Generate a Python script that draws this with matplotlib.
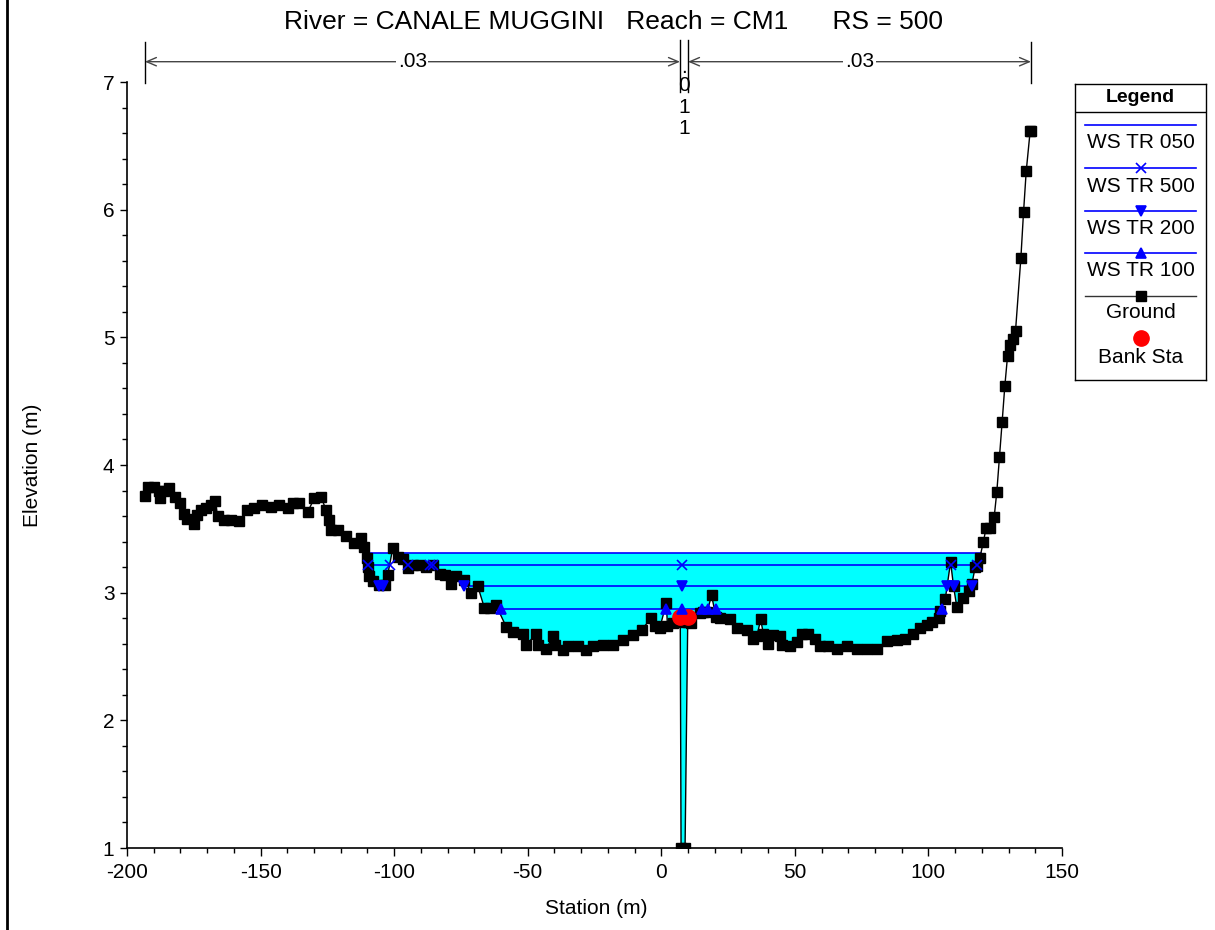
import matplotlib
matplotlib.use('Agg')
import matplotlib.pyplot as plt
from matplotlib.lines import Line2D
from matplotlib.ticker import MultipleLocator
import numpy as np

plt.rcParams['font.family'] = ['Liberation Sans', 'DejaVu Sans']
plt.rcParams['axes.unicode_minus'] = False

# Ground profile (station m, elevation m)
station = [
    -193.3, -192.0, -189.8, -188.0, -187.6, -186.1, -184.2, -182.0, -180.1, -178.6,
    -177.5, -174.9, -173.7, -172.3, -170.5, -168.6, -167.0, -166.1, -163.6, -161.1,
    -158.0, -154.9, -152.4, -149.3, -146.1, -143.0, -139.9, -138.0, -135.5, -132.4,
    -129.9, -127.4, -125.5, -124.3, -123.6, -121.1, -118.0, -114.9, -112.4, -111.1,
    -110.1, -109.9, -109.3, -108.0, -105.5, -103.6, -102.4, -100.5, -98.7, -96.8,
    -94.9, -93.0, -90.5, -88.0, -85.5, -83.0, -81.1, -78.6, -76.8, -73.7,
    -71.1, -68.7, -66.2, -64.3, -61.8, -58.0, -55.5, -51.8, -50.5, -46.8,
    -46.2, -43.0, -40.6, -39.9, -36.8, -34.9, -31.2, -28.0, -25.6, -21.8,
    -18.1, -14.3, -10.6, -7.4, -3.7, -2.4, -0.6, 1.9, 2.3, 4.4,
    6.9, 7.1, 7.4, 8.9, 9.9, 10.1, 11.3, 14.4, 15.8, 17.2,
    18.8, 20.5, 21.9, 25.7, 28.2, 31.9, 34.4, 35.8, 37.2, 38.2,
    40.0, 41.9, 44.4, 45.1, 48.2, 50.7, 52.5, 55.0, 57.5, 59.4,
    62.5, 65.7, 69.4, 73.2, 76.9, 80.7, 84.4, 88.2, 91.3, 94.4,
    96.9, 99.4, 101.3, 103.8, 104.4, 106.3, 108.3, 109.4, 110.6, 113.1,
    115.0, 116.3, 117.5, 118.1, 119.2, 120.6, 121.6, 123.1, 124.6, 125.6,
    126.6, 127.6, 128.6, 129.6, 130.6, 131.6, 132.6, 134.6, 135.6, 136.6,
    138.1, 138.4,
]
elevation = [
    3.76, 3.83, 3.83, 3.80, 3.74, 3.80, 3.82, 3.75, 3.70, 3.62,
    3.58, 3.54, 3.61, 3.65, 3.66, 3.69, 3.72, 3.60, 3.57, 3.57,
    3.56, 3.65, 3.66, 3.69, 3.67, 3.69, 3.66, 3.70, 3.70, 3.63,
    3.74, 3.75, 3.65, 3.57, 3.49, 3.49, 3.44, 3.39, 3.43, 3.36,
    3.27, 3.20, 3.13, 3.09, 3.06, 3.06, 3.14, 3.35, 3.28, 3.26,
    3.19, 3.22, 3.22, 3.20, 3.22, 3.15, 3.14, 3.07, 3.13, 3.10,
    3.00, 3.05, 2.88, 2.88, 2.90, 2.73, 2.69, 2.68, 2.59, 2.68,
    2.59, 2.56, 2.66, 2.59, 2.55, 2.58, 2.58, 2.55, 2.58, 2.59,
    2.59, 2.63, 2.67, 2.71, 2.80, 2.74, 2.72, 2.92, 2.74, 2.76,
    2.81, 2.77, 1.00, 1.00, 2.77, 2.81, 2.76, 2.84, 2.85, 2.85,
    2.98, 2.81, 2.80, 2.79, 2.72, 2.71, 2.64, 2.66, 2.79, 2.68,
    2.60, 2.67, 2.66, 2.59, 2.58, 2.61, 2.68, 2.68, 2.64, 2.58,
    2.58, 2.56, 2.58, 2.56, 2.56, 2.56, 2.62, 2.63, 2.64, 2.68,
    2.72, 2.75, 2.77, 2.80, 2.86, 2.95, 3.24, 3.05, 2.89, 2.96,
    3.01, 3.07, 3.20, 3.21, 3.27, 3.40, 3.51, 3.51, 3.59, 3.79,
    4.06, 4.34, 4.62, 4.85, 4.94, 4.99, 5.05, 5.62, 5.98, 6.30,
    6.62, 6.62,
]

bank_sta = [7.0, 10.0]
bank_elev = [2.81, 2.81]

ws_labels = ['WS TR 050', 'WS TR 500', 'WS TR 200', 'WS TR 100']
ws_elev = [3.31, 3.22, 3.05, 2.87]
ws_reaches = [
    [(-110.5, 119.6)],
    [(-109.9, -101.5), (-94.9, 108.4), (108.9, 118.1)],
    [(-105.5, -104.3), (-73.7, 106.9), (109.6, 116.3)],
    [(-59.9, 105.0)],
]
ws_marks = [
    [],
    [-109.9, -101.5, -94.9, -86.6, -85.6, 7.6, 108.4, 118.1],
    [-105.5, -104.3, -73.7, 7.6, 106.9, 109.6, 116.3],
    [-59.9, 1.9, 7.6, 15.1, 17.5, 20.4, 105.0],
]
ws_markers = [None, 'x', 'v', '^']

n_values = ['.03', '.011', '.03']
n_breaks = [-193.3, 7.0, 10.0, 138.4]

title = 'River = CANALE MUGGINI   Reach = CM1      RS = 500'

W, H = 1215, 930
fig = plt.figure(figsize=(W / 100, H / 100), dpi=100)
ax = fig.add_axes([127 / W, 1 - 848 / H, (1062 - 127) / W, (848 - 82) / H])

st = np.array(station)
gr = np.array(elevation)
top = max(ws_elev)

# water fill up to highest profile
ax.fill_between(st, gr, top, where=gr < top, interpolate=True,
                color='#00FFFF', lw=0, zorder=1)

for i, lab in enumerate(ws_labels):
    for a, b in ws_reaches[i]:
        ax.plot([a, b], [ws_elev[i], ws_elev[i]], color='#0000FF', lw=1.2, zorder=2)

ax.plot(st, gr, color='k', lw=1, marker='s', ms=6.5, mfc='k', mec='k', zorder=3)
ax.plot(bank_sta, bank_elev, ls='none', marker='o', ms=11, color='#FF0000', zorder=4)

for i, lab in enumerate(ws_labels):
    if ws_markers[i] is None:
        continue
    ax.plot(ws_marks[i], [ws_elev[i]] * len(ws_marks[i]), ls='none',
            marker=ws_markers[i], ms=7, color='#0000FF', mew=1.2, zorder=5)

ax.set_xlim(-200, 150)
ax.set_ylim(1, 7)
ax.xaxis.set_major_locator(MultipleLocator(50))
ax.xaxis.set_minor_locator(MultipleLocator(10))
ax.yaxis.set_major_locator(MultipleLocator(1))
ax.yaxis.set_minor_locator(MultipleLocator(0.2))
ax.tick_params(which='major', direction='out', length=5, width=1, labelsize=15, pad=4)
ax.tick_params(which='minor', direction='out', length=3.5, width=1)
ax.tick_params(axis='x', which='major', length=6, pad=5)
for s in ['top', 'right']:
    ax.spines[s].set_visible(False)
for s in ['left', 'bottom']:
    ax.spines[s].set_linewidth(1.2)

# Manning's n header
y_arrow = 7.159
for k, x in enumerate(n_breaks):
    if k in (1, 2):
        ax.plot([x, x], [6.92, 7.33], color='k', lw=1, clip_on=False)
    else:
        ax.plot([x, x], [6.99, 7.315], color='k', lw=1, clip_on=False)
for k in [0, 2]:
    a, b = n_breaks[k], n_breaks[k + 1]
    ax.annotate('', xy=(a, y_arrow), xytext=(b, y_arrow), annotation_clip=False,
                arrowprops=dict(arrowstyle='<->,head_length=0.7,head_width=0.3',
                                color='#444444', lw=1, shrinkA=0, shrinkB=0))
    ax.text((a + b) / 2, y_arrow, n_values[k], fontsize=15,
            ha='center', va='center', clip_on=False,
            bbox=dict(facecolor='white', edgecolor='none', pad=1))
mid = (n_breaks[1] + n_breaks[2]) / 2
for ch, yy in zip(n_values[1], [7.11, 6.975, 6.80, 6.635]):
    ax.text(mid, yy, ch, fontsize=15, ha='center', va='center', clip_on=False)

fig.text(613 / W, 1 - 22 / H, title, fontsize=19, ha='center', va='center')
fig.text(32 / W, 1 - 465 / H, 'Elevation (m)', fontsize=15, rotation=90,
         ha='center', va='center')
fig.text(596 / W, 1 - 908 / H, 'Station (m)', fontsize=15, ha='center', va='center')

fig.add_artist(Line2D([7 / W, 7 / W], [0, 1], color='k', lw=2))

# legend box
lax = fig.add_axes([1075 / W, 1 - 380 / H, 131 / W, 296 / H])
lax.set_xlim(1075, 1206)
lax.set_ylim(380, 84)
lax.set_xticks([])
lax.set_yticks([])
for s in lax.spines.values():
    s.set_linewidth(1)
lax.axhline(112, color='k', lw=1)
lax.text(1140.5, 98, 'Legend', fontsize=14, weight='bold', ha='center', va='center')
xc = 1140.5
line_y = [125, 168, 211, 253]
text_y = [143, 186, 228, 271]
for i, lab in enumerate(ws_labels):
    lax.plot([1085, 1196], [line_y[i], line_y[i]], color='#0000FF', lw=1.2)
    if ws_markers[i] is not None:
        lax.plot([xc], [line_y[i]], marker=ws_markers[i], ms=7, color='#0000FF', mew=1.2)
    lax.text(xc, text_y[i], lab, fontsize=15, ha='center', va='center')
lax.plot([1085, 1196], [296, 296], color='#333333', lw=1)
lax.plot([xc], [296], marker='s', ms=6.5, color='k')
lax.text(xc, 313, 'Ground', fontsize=15, ha='center', va='center')
lax.plot([xc], [338], marker='o', ms=11, color='#FF0000')
lax.text(xc, 357, 'Bank Sta', fontsize=15, ha='center', va='center')

fig.savefig('out.png', dpi=100)
